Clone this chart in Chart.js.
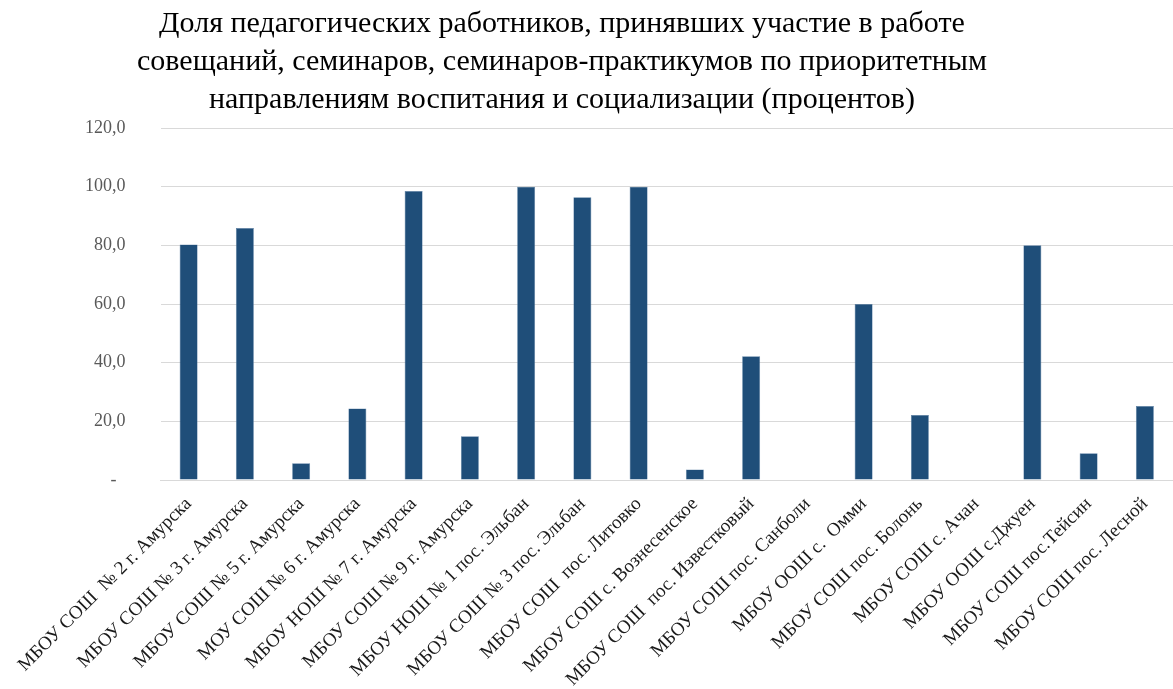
<!DOCTYPE html>
<html lang="ru">
<head>
<meta charset="utf-8">
<script src="https://cdn.jsdelivr.net/npm/chart.js@4.4.1/dist/chart.umd.min.js"></script>
<style>
  html, body { margin: 0; padding: 0; background: #fff; }
  #wrap { width: 1173px; height: 689px; }
</style>
</head>
<body>
<div id="wrap"><canvas id="chart"></canvas></div>
<script>
// =====================
// DATA
// =====================
const titleLines = [
  "Доля педагогических работников, принявших участие в работе",
  "совещаний, семинаров, семинаров-практикумов по приоритетным",
  "направлениям воспитания и социализации (процентов)"
];

const schools = [
  "МБОУ СОШ  № 2 г. Амурска",
  "МБОУ СОШ № 3 г. Амурска",
  "МБОУ СОШ № 5 г. Амурска",
  "МОУ СОШ № 6 г. Амурска",
  "МБОУ НОШ № 7 г. Амурска",
  "МБОУ СОШ № 9 г. Амурска",
  "МБОУ НОШ № 1 пос. Эльбан",
  "МБОУ СОШ № 3 пос. Эльбан",
  "МБОУ СОШ  пос. Литовко",
  "МБОУ СОШ с. Вознесенское",
  "МБОУ СОШ  пос. Известковый",
  "МБОУ СОШ пос. Санболи",
  "МБОУ ООШ с.  Омми",
  "МБОУ СОШ пос. Болонь",
  "МБОУ СОШ с. Ачан",
  "МБОУ ООШ с.Джуен",
  "МБОУ СОШ пос.Тейсин",
  "МБОУ СОШ пос. Лесной"
];

const shares = [80.3, 85.9, 5.7, 24.4, 98.5, 14.9, 100, 96.4, 100, 3.6, 42.2, 0, 60, 22.2, 0, 80, 9.1, 25.2];

const yTicks = [0, 20, 40, 60, 80, 100, 120];

const serif = '"Liberation Serif", "Times New Roman", serif';

// =====================
// TITLE (centred like the original, left of canvas centre)
// =====================
const titlePlugin = {
  id: "titleLines",
  afterDraw(chart) {
    const ctx = chart.ctx;
    ctx.save();
    ctx.font = "30px " + serif;
    ctx.fillStyle = "#000";
    ctx.textAlign = "center";
    ctx.textBaseline = "middle";
    titleLines.forEach((t, i) => ctx.fillText(t, 562, 24 + i * 38));
    ctx.restore();
  }
};

// =====================
// CHART
// =====================
new Chart(document.getElementById("chart"), {
  type: "bar",
  data: {
    labels: schools,
    datasets: [{
      data: shares,
      backgroundColor: "#1f4e79",
      borderColor: "#5b7fa3",
      borderWidth: 0.6,
      barPercentage: 0.32,
      categoryPercentage: 1
    }]
  },
  options: {
    responsive: true,
    maintainAspectRatio: false,
    animation: false,
    layout: { padding: { top: 128, left: 50, right: 0, bottom: 0 } },
    plugins: {
      legend: { display: false },
      title: { display: false },
      tooltip: { enabled: false }
    },
    scales: {
      x: {
        grid: { display: false },
        border: { color: "#d9d9d9" },
        afterFit: s => {
          // labels may run past the plot edges, like in the original
          s.height = 209;
          s.paddingLeft = 0;
          s.paddingRight = 0;
        },
        ticks: {
          color: "#1a1a1a",
          font: { family: serif, size: 19 },
          maxRotation: 45,
          minRotation: 45,
          autoSkip: false,
          padding: 5
        }
      },
      y: {
        min: 0,
        max: 120,
        afterBuildTicks: axis => { axis.ticks = yTicks.map(v => ({ value: v })); },
        grid: { color: "#d9d9d9", drawTicks: false },
        border: { display: false },
        ticks: {
          color: "#595959",
          font: { family: serif, size: 18 },
          padding: 35,
          callback: v => v === 0 ? "-  " : v.toFixed(1).replace(".", ",")
        }
      }
    }
  },
  plugins: [titlePlugin]
});
</script>
</body>
</html>
